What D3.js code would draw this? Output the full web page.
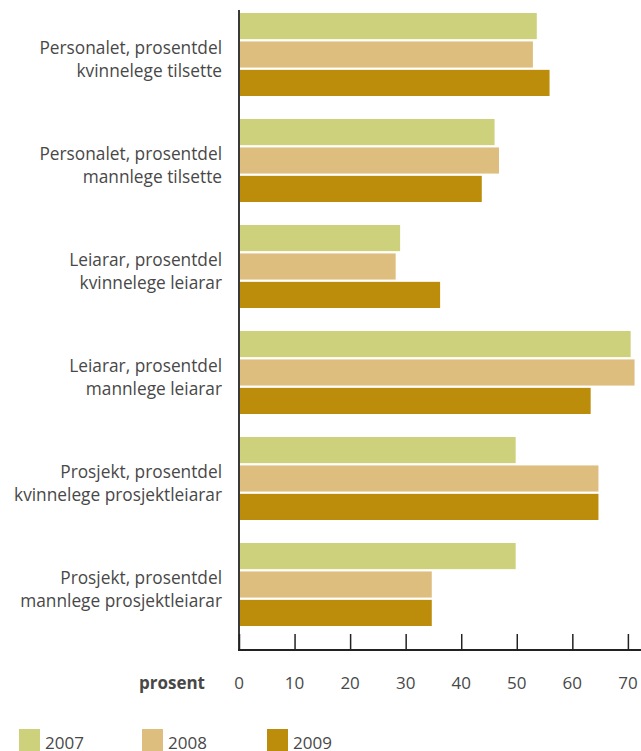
<!DOCTYPE html>
<html>
<head>
<meta charset="utf-8">
<script src="https://cdn.jsdelivr.net/npm/d3@7"></script>
<style>
  body { margin: 0; background: #fff; }
  svg text { font-family: "Open Sans", "Noto Sans", sans-serif; fill: #484848; }
</style>
</head>
<body>
<div id="chart"></div>
<script>
// categories (two lines each) and values per year
var categories = [
  ["Personalet, prosentdel", "kvinnelege tilsette"],
  ["Personalet, prosentdel", "mannlege tilsette"],
  ["Leiarar, prosentdel", "kvinnelege leiarar"],
  ["Leiarar, prosentdel", "mannlege leiarar"],
  ["Prosjekt, prosentdel", "kvinnelege prosjektleiarar"],
  ["Prosjekt, prosentdel", "mannlege prosjektleiarar"]
];
var years = ["2007", "2008", "2009"];
var values2007 = [53.6, 46.0, 29.0, 70.5, 49.8, 49.8];
var values2008 = [52.9, 46.8, 28.2, 71.2, 64.7, 34.7];
var values2009 = [55.9, 43.7, 36.2, 63.3, 64.7, 34.7];
var xTicks = [0, 10, 20, 30, 40, 50, 60, 70];
var colors = ["#ced17c", "#debe7f", "#bc8c0b"];

var width = 641, height = 751;
var series = [values2007, values2008, values2009];

var svg = d3.select("#chart").append("svg")
    .attr("width", width)
    .attr("height", height);

var x = d3.scaleLinear().domain([0, 72]).range([239, 639]);

var y0 = d3.scaleBand()
    .domain(d3.range(categories.length))
    .range([13, 626])
    .paddingInner(0.217)
    .paddingOuter(0);

var y1 = d3.scaleBand()
    .domain(years)
    .range([0, y0.bandwidth()])
    .paddingInner(0.08);

var groups = svg.append("g").selectAll("g")
    .data(categories)
    .enter().append("g")
    .attr("transform", function(d, i) { return "translate(0," + y0(i) + ")"; });

groups.selectAll("rect")
    .data(function(d, i) { return years.map(function(yr, j) { return {yr: yr, v: series[j][i], j: j}; }); })
    .enter().append("rect")
    .attr("x", x(0))
    .attr("y", function(d) { return y1(d.yr); })
    .attr("width", function(d) { return x(d.v) - x(0); })
    .attr("height", y1.bandwidth())
    .attr("fill", function(d) { return colors[d.j]; });

// category labels
groups.append("text")
    .attr("text-anchor", "end")
    .attr("font-size", 17.3)
    .selectAll("tspan")
    .data(function(d) { return d; })
    .enter().append("tspan")
    .attr("x", 222)
    .attr("y", function(d, k) { return y0.bandwidth() / 2 + k * 23; })
    .text(function(d) { return d; });

// vertical axis line
svg.append("line")
    .attr("x1", x(0)).attr("x2", x(0))
    .attr("y1", 10).attr("y2", 651)
    .attr("stroke", "#3a3a3a")
    .attr("stroke-width", 2);

// bottom axis with upward ticks
var axisY = 650;
var xAxis = d3.axisBottom(x).tickValues(xTicks).tickSize(-16).tickSizeOuter(0).tickPadding(0);
var ax = svg.append("g")
    .attr("transform", "translate(0," + axisY + ")")
    .call(xAxis);
ax.select(".domain").remove();
ax.selectAll(".tick line").attr("stroke", "#222").attr("stroke-width", 1.5);
ax.selectAll(".tick text").remove();
ax.append("line")
    .attr("x1", x(0) - 1).attr("x2", 641)
    .attr("y1", 0).attr("y2", 0)
    .attr("stroke", "#222").attr("stroke-width", 2);

svg.append("g").selectAll("text")
    .data(xTicks)
    .enter().append("text")
    .attr("x", function(d) { return x(d); })
    .attr("y", 689)
    .attr("text-anchor", "middle")
    .attr("font-size", 17)
    .text(function(d) { return d; });

svg.append("text")
    .attr("x", 205)
    .attr("y", 689)
    .attr("text-anchor", "end")
    .attr("font-size", 17)
    .attr("font-weight", "bold")
    .text("prosent");

// legend
var legendX = [19, 142, 267];
var legend = svg.append("g").selectAll("g")
    .data(years)
    .enter().append("g")
    .attr("transform", function(d, i) { return "translate(" + legendX[i] + ",729)"; });
legend.append("rect")
    .attr("width", 21).attr("height", 22)
    .attr("fill", function(d, i) { return colors[i]; });
legend.append("text")
    .attr("x", 26).attr("y", 20)
    .attr("font-size", 17)
    .text(function(d) { return d; });
</script>
</body>
</html>
